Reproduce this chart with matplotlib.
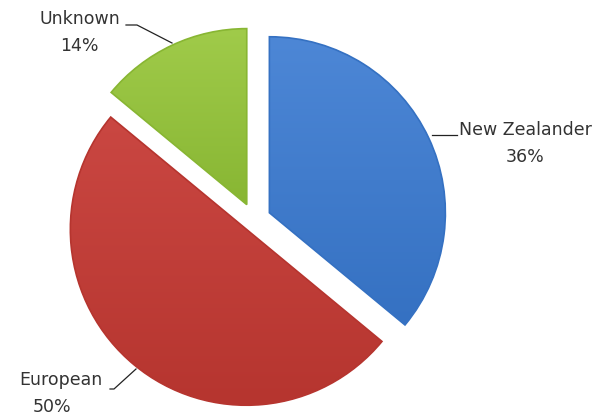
import numpy as np
import matplotlib
matplotlib.use('Agg')
import matplotlib.pyplot as plt
import matplotlib.patches as mpatches
from matplotlib.colors import to_rgb

# Datos del gráfico
categorias = ['New Zealander', 'European', 'Unknown']
porcentajes = [36, 50, 14]
colores = ['#3f7bcc', '#c23d38', '#95c23e']
colores_claros = ['#4d87d6', '#ca4742', '#a0cb4a']
colores_oscuros = ['#3571c2', '#b6352f', '#88b633']

W, H = 595, 415
fig = plt.figure(figsize=(W / 100, H / 100), dpi=100)
ax = fig.add_axes([0, 0, 1, 1])

# coordenadas en pixeles: y hacia arriba con valores negativos
wedges, _ = ax.pie(porcentajes, startangle=90, counterclock=False,
                   explode=[17, 12, 17], radius=176, center=(254, -220),
                   colors=colores, wedgeprops=dict(linewidth=0))

# degradado dentro de cada porción
for w, c1, c2 in zip(wedges, colores_claros, colores_oscuros):
    bb = w.get_path().get_extents(w.get_patch_transform())
    n = 200
    t = np.linspace(0, 1, n)[:, None, None]
    img = (1 - t) * np.array(to_rgb(c1)) + t * np.array(to_rgb(c2))
    img = np.repeat(img, 2, axis=1)
    im = ax.imshow(img, extent=(bb.x0, bb.x1, bb.y0, bb.y1), origin='upper',
                   aspect='auto', zorder=2, interpolation='bilinear')
    im.set_clip_path(w)
    w.set_zorder(1)
    # borde suave
    ax.add_patch(mpatches.Wedge(w.center, w.r, w.theta1, w.theta2, fill=False,
                                ec=c2, lw=1.2, zorder=3))

ax.set_xlim(0, W)
ax.set_ylim(-H, 0)
ax.set_aspect('equal')
ax.axis('off')

color_texto = '#333333'
fs = 12.5

# etiquetas y líneas guía
etiquetas = [
    (categorias[0], f'{porcentajes[0]}%', (525, 130), (525, 157),
     [(432, 135), (457, 135)]),
    (categorias[1], f'{porcentajes[1]}%', (61, 380), (52, 407),
     [(136, 369), (114, 389), (110, 389)]),
    (categorias[2], f'{porcentajes[2]}%', (80, 19), (79, 46),
     [(172, 43), (137, 25), (126, 25)]),
]
for nombre, pct, p1, p2, linea in etiquetas:
    ax.text(p1[0], -p1[1], nombre, ha='center', va='center', fontsize=fs,
            color=color_texto)
    ax.text(p2[0], -p2[1], pct, ha='center', va='center', fontsize=fs,
            color=color_texto)
    xs = [p[0] for p in linea]
    ys = [-p[1] for p in linea]
    ax.plot(xs, ys, color='#222222', lw=0.9, zorder=5)

fig.savefig('out.png', dpi=100)
